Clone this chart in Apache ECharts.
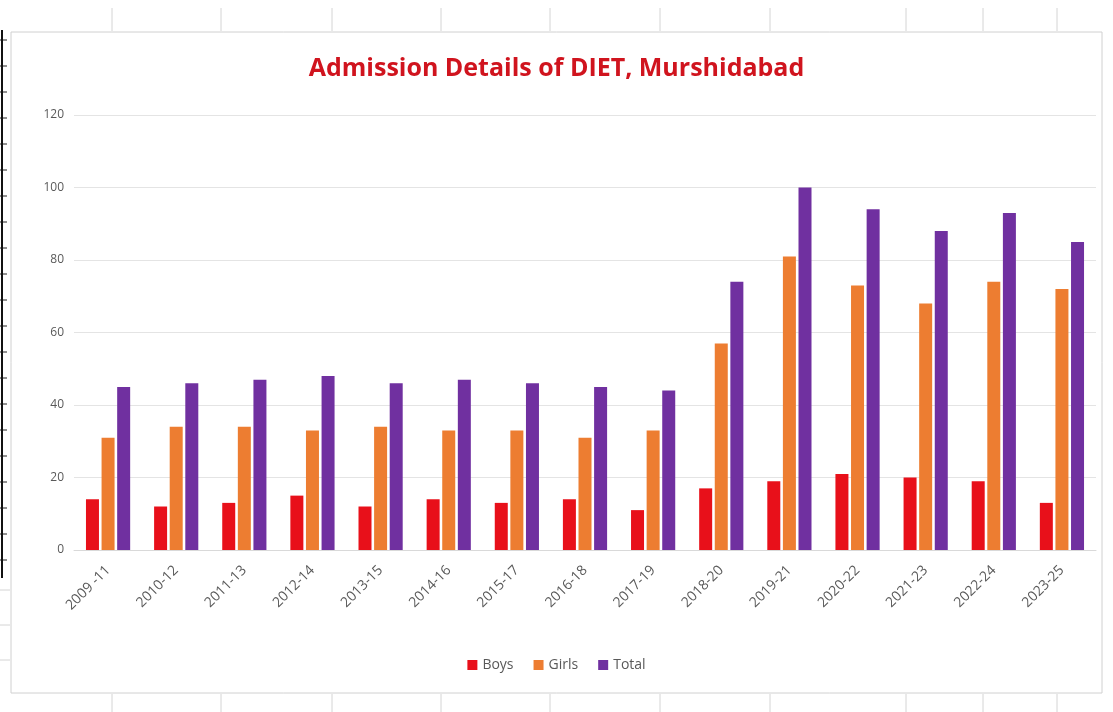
<!DOCTYPE html>
<html>
<head>
<meta charset="utf-8">
<title>Admission Details of DIET, Murshidabad</title>
<script src="https://cdn.jsdelivr.net/npm/echarts@6.0.0/dist/echarts.min.js"></script>
<style>
  html, body { margin: 0; padding: 0; background: #fff; }
  #chart { width: 1113px; height: 712px; }
</style>
</head>
<body>
<div id="chart"></div>
<script>
// session categories
const sessions = ['2009 -11', '2010-12', '2011-13', '2012-14', '2013-15', '2014-16', '2015-17',
  '2016-18', '2017-19', '2018-20', '2019-21', '2020-22', '2021-23', '2022-24', '2023-25'];

// admissions per session
const boys  = [14, 12, 13, 15, 12, 14, 13, 14, 11, 17, 19, 21, 20, 19, 13];
const girls = [31, 34, 34, 33, 34, 33, 33, 31, 33, 57, 81, 73, 68, 74, 72];
const total = [45, 46, 47, 48, 46, 47, 46, 45, 44, 74, 100, 94, 88, 93, 85];

const labelColor = '#595959';

// the spreadsheet around the chart (cell borders), only decoration
const colLines = [112, 221, 332, 441, 550, 660, 770, 906, 983, 1057];
let sheet = [];
colLines.forEach(function (x) {
  sheet.push({ type: 'line', shape: { x1: x, y1: 8, x2: x, y2: 31 }, style: { stroke: '#d4d4d4', lineWidth: 1 } });
  sheet.push({ type: 'line', shape: { x1: x, y1: 694, x2: x, y2: 712 }, style: { stroke: '#d4d4d4', lineWidth: 1 } });
});
for (let y = 40; y < 580; y += 26) {
  sheet.push({ type: 'line', shape: { x1: 0, y1: y, x2: 7, y2: y }, style: { stroke: '#222', lineWidth: 1 } });
}
[590, 625, 660].forEach(function (y) {
  sheet.push({ type: 'line', shape: { x1: 0, y1: y, x2: 10, y2: y }, style: { stroke: '#d4d4d4', lineWidth: 1 } });
});
// left thick line and chart frame
sheet.push({ type: 'line', shape: { x1: 2, y1: 30, x2: 2, y2: 578 }, style: { stroke: '#111', lineWidth: 2 } });
sheet.push({ type: 'rect', shape: { x: 11, y: 32, width: 1091, height: 661 }, style: { fill: 'none', stroke: '#d0d0d0', lineWidth: 1 } });

const chart = echarts.init(document.getElementById('chart'));

chart.setOption({
  backgroundColor: '#fff',
  animation: false,
  graphic: sheet,
  title: {
    text: 'Admission Details of DIET, Murshidabad',
    left: 'center',
    top: 51,
    textStyle: {
      color: '#d0141e',
      fontFamily: 'Open Sans',
      fontWeight: 'bold',
      fontSize: 25
    }
  },
  legend: {
    data: ['Boys', 'Girls', 'Total'],
    bottom: 35,
    left: 'center',
    itemWidth: 10,
    itemHeight: 10,
    itemGap: 20,
    itemStyle: { borderWidth: 0 },
    icon: 'rect',
    textStyle: { color: labelColor, fontSize: 14, fontFamily: 'Open Sans' }
  },
  grid: {
    left: 74,
    right: 17,
    top: 115,
    bottom: 162,
    containLabel: false
  },
  xAxis: {
    type: 'category',
    data: sessions,
    axisLine: { lineStyle: { color: '#d9d9d9' } },
    axisTick: { show: false },
    axisLabel: {
      rotate: 45,
      color: labelColor,
      fontSize: 14,
      fontFamily: 'Open Sans',
      margin: 18
    }
  },
  yAxis: {
    type: 'value',
    min: 0,
    max: 120,
    interval: 20,
    axisLine: { show: false },
    axisTick: { show: false },
    splitLine: { lineStyle: { color: '#e4e4e4' } },
    axisLabel: { color: labelColor, fontSize: 12, fontFamily: 'Open Sans', margin: 10 }
  },
  series: [
    { name: 'Boys', type: 'bar', data: boys, barWidth: 13, barGap: '20%', itemStyle: { color: '#e8101a' } },
    { name: 'Girls', type: 'bar', data: girls, barWidth: 13, barGap: '20%', itemStyle: { color: '#ed7d31' } },
    { name: 'Total', type: 'bar', data: total, barWidth: 13, barGap: '20%', itemStyle: { color: '#7030a0' } }
  ]
});
</script>
</body>
</html>
